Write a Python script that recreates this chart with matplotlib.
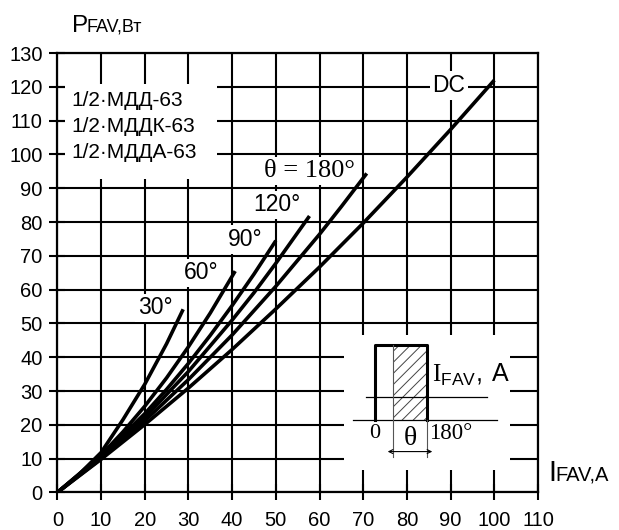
import matplotlib.pyplot as plt
from matplotlib.patches import Rectangle

plt.rcParams['font.family'] = ['Liberation Sans', 'DejaVu Sans']
plt.rcParams['mathtext.fontset'] = 'custom'
plt.rcParams['mathtext.rm'] = 'Liberation Serif'
plt.rcParams['mathtext.sf'] = 'Liberation Sans'
plt.rcParams['hatch.linewidth'] = 0.7

# данные: средний ток (А) -> мощность потерь (Вт)
i_30 = [0, 5, 10, 15, 20, 25, 28.8]
p_30 = [0, 5.4, 11.8, 21.5, 32.0, 44.0, 54.2]

i_60 = [0, 10, 15, 20, 25, 30, 35, 40.7]
p_60 = [0, 11.0, 17.9, 25.5, 33.9, 43.1, 53.1, 65.5]

i_90 = [0, 10, 20, 25, 30, 35, 40, 45, 50]
p_90 = [0, 10.6, 23.3, 30.5, 38.2, 46.5, 55.3, 64.6, 74.5]

i_120 = [0, 10, 20, 30, 40, 45, 50, 57.7]
p_120 = [0, 10.3, 22.2, 35.8, 51.0, 59.1, 67.8, 81.8]

i_180 = [0, 10, 20, 30, 40, 50, 60, 65, 70.8]
p_180 = [0, 10.0, 21.2, 33.4, 46.6, 61.0, 76.4, 84.6, 94.4]

i_dc = [0, 10, 20, 30, 40, 50, 60, 70, 80, 90, 100]
p_dc = [0, 9.8, 20.1, 30.9, 42.3, 54.3, 66.7, 79.7, 93.3, 107.4, 122]

x_ticks = list(range(0, 111, 10))
y_ticks = list(range(0, 131, 10))

curves = [
    (i_30, p_30, '30°', (22.4, 54.6), 'sans'),
    (i_60, p_60, '60°', (33.0, 65.0), 'sans'),
    (i_90, p_90, '90°', (43.0, 74.9), 'sans'),
    (i_120, p_120, '120°', (50.3, 85.1), 'sans'),
    (i_180, p_180, 'θ = 180°', (57.6, 95.2), 'serif'),
    (i_dc, p_dc, 'DC', (89.6, 120.4), 'sans'),
]

fig = plt.figure(figsize=(6.19, 5.30), dpi=100)
ax = fig.add_axes([0.0926, 0.0708, 0.7766, 0.829])

ax.set_xlim(0, 110)
ax.set_ylim(0, 130)
ax.set_xticks(x_ticks)
ax.set_yticks(y_ticks)
ax.set_axisbelow(True)
ax.grid(True, color='black', linewidth=1.5)
for s in ax.spines.values():
    s.set_linewidth(1.6)
ax.tick_params(direction='inout', length=11, width=1.5, labelsize=14.5,
               top=False, right=False)
ax.tick_params(axis='y', pad=5)
ax.tick_params(axis='x', pad=8)

# белые подложки поверх сетки
ax.add_patch(Rectangle((1.8, 92.7), 34.7, 28.3, facecolor='white',
                       edgecolor='none', zorder=1))
ax.add_patch(Rectangle((65.5, 6.7), 38.0, 39.9, facecolor='white',
                       edgecolor='none', zorder=1))

serif = ['Liberation Serif', 'DejaVu Serif']
for x, y, lab, pos, fam in curves:
    ax.plot(x, y, color='black', linewidth=2.6, solid_capstyle='butt', zorder=4)
    ax.text(pos[0], pos[1], lab, ha='center', va='center',
            fontsize=19 if fam == 'serif' else 16.5,
            family=serif if fam == 'serif' else None, zorder=3,
            bbox=dict(facecolor='white', edgecolor='none', pad=2))

# тип прибора
for k, name in enumerate(['1/2·МДД-63', '1/2·МДДК-63', '1/2·МДДА-63']):
    ax.text(3.3, 116.1 - 7.75 * k, name, ha='left', va='center',
            fontsize=15, zorder=3)

# подписи осей
fig.text(72 / 619, 1 - 31.7 / 530, 'P', fontsize=17.5, ha='left', va='baseline')
fig.text(87 / 619, 1 - 31.7 / 530, 'FAV,Вт', fontsize=13, ha='left', va='baseline')
fig.text(548 / 619, 1 - 480.7 / 530, 'I', fontsize=21, ha='left', va='baseline')
fig.text(555 / 619, 1 - 480.7 / 530, 'FAV,A', fontsize=14.5, ha='left', va='baseline')

# вставка с формой тока
ax.add_patch(Rectangle((76.9, 21.4), 7.6, 22.2, facecolor='none', edgecolor='#444444',
                       hatch='///', linewidth=0, zorder=5))
ax.plot([72.7, 72.7, 84.5, 84.5], [21.4, 43.6, 43.6, 21.4], color='black',
        linewidth=2.2, zorder=6)
ax.plot([67.6, 100.5], [21.4, 21.4], color='black', linewidth=0.9, zorder=6)
ax.plot([70.6, 98.3], [28.3, 28.3], color='black', linewidth=0.9, zorder=6)
ax.plot([76.9, 76.9], [10.6, 43.6], color='#555555', linewidth=0.8, zorder=6)
ax.plot([84.5, 84.5], [10.6, 21.4], color='#555555', linewidth=0.8, zorder=6)
ax.annotate('', xy=(75.6, 12.1), xytext=(85.8, 12.1), zorder=6,
            arrowprops=dict(arrowstyle='<->', lw=0.8, color='black',
                            mutation_scale=7, shrinkA=0, shrinkB=0))
ax.text(85.7, 34.8, r'$\mathrm{I}_{\mathsf{FAV}}\mathsf{,\,A}$', fontsize=18,
        ha='left', va='center', zorder=6)
ax.text(72.7, 17.4, '0', fontsize=16, family=serif, ha='center', va='center', zorder=6)
ax.text(80.7, 16.1, 'θ', fontsize=20, family=serif, ha='center', va='center', zorder=6)
ax.text(85.0, 17.4, '180°', fontsize=16.5, family=serif, ha='left', va='center', zorder=6)

plt.savefig('out.png', dpi=100)
